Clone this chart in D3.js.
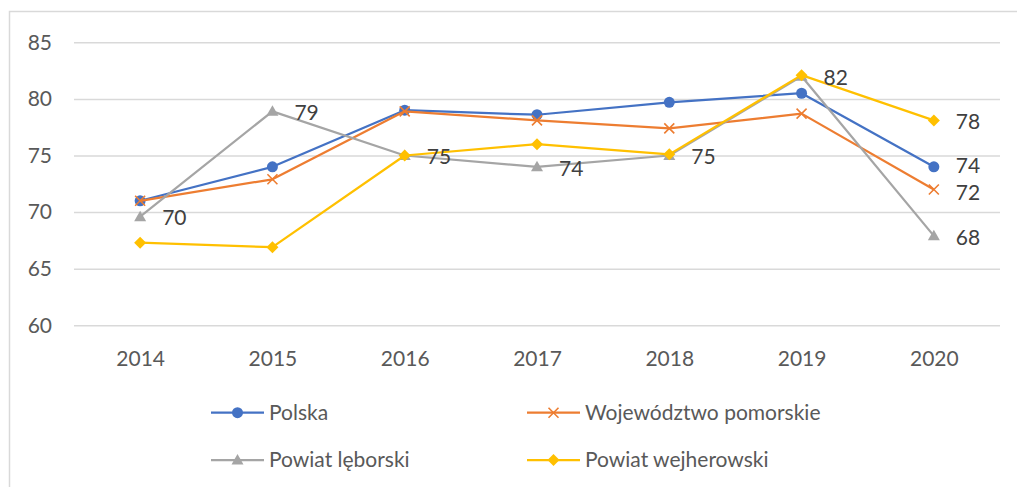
<!DOCTYPE html>
<html>
<head>
<meta charset="utf-8">
<script src="https://cdn.jsdelivr.net/npm/d3@7"></script>
<style>
  html, body { margin: 0; padding: 0; background: #fff; }
  text { font-family: Lato, "Open Sans", sans-serif; }
</style>
</head>
<body>
<div id="chart"></div>
<script>
// data
const years = ["2014", "2015", "2016", "2017", "2018", "2019", "2020"];
const polska = [71.0, 74.0, 79.0, 78.6, 79.7, 80.5, 74.0];
const pomorskie = [71.0, 72.9, 78.9, 78.1, 77.4, 78.7, 72.0];
const leborski = [69.6, 78.9, 75.0, 74.0, 75.0, 82.0, 67.9];
const wejherowski = [67.3, 66.9, 75.0, 76.0, 75.1, 82.1, 78.1];
const yTicks = [60, 65, 70, 75, 80, 85];

const series = [
    { name: "Polska", values: polska, color: "#4472C4", symbol: "circle", labels: [6], nudge: -1 },
    { name: "Województwo pomorskie", values: pomorskie, color: "#ED7D31", symbol: "cross", labels: [6], nudge: 3 },
    { name: "Powiat lęborski", values: leborski, color: "#A5A5A5", symbol: "triangle", labels: [0, 1, 2, 3, 4, 5, 6], nudge: 1.5 },
    { name: "Powiat wejherowski", values: wejherowski, color: "#FFC000", symbol: "diamond", labels: [6], nudge: 1.5 }
];

const width = 1017;
const height = 487;
const fontSize = "21px";

const svg = d3.select("#chart")
    .append("svg")
    .attr("width", width)
    .attr("height", height);

// chart frame
svg.append("rect")
    .attr("x", 9.5)
    .attr("y", 11.5)
    .attr("width", 1100)
    .attr("height", 600)
    .attr("fill", "none")
    .attr("stroke", "#d9d9d9")
    .attr("stroke-width", 1.5);

const x = d3.scalePoint()
    .domain(years)
    .range([74, 1000])
    .padding(0.5);

const y = d3.scaleLinear()
    .domain([60, 85])
    .range([325.3, 42.3]);

// y axis + gridlines
const yAxis = svg.append("g")
    .attr("transform", "translate(74,0)")
    .call(d3.axisLeft(y).tickValues(yTicks).tickSize(-926).tickPadding(22));
yAxis.select(".domain").remove();
yAxis.selectAll(".tick line")
    .attr("stroke", "#d9d9d9")
    .attr("stroke-width", 1.5);
yAxis.selectAll(".tick text")
    .attr("fill", "#595959")
    .style("font-size", fontSize);

// x axis
const xAxis = svg.append("g")
    .attr("transform", "translate(0,325.3)")
    .call(d3.axisBottom(x).tickSize(0));
xAxis.select(".domain").remove();
xAxis.selectAll(".tick text")
    .attr("y", 33)
    .attr("dy", "0.35em")
    .attr("fill", "#595959")
    .style("font-size", fontSize);

const line = d3.line()
    .x((d, i) => x(years[i]))
    .y(d => y(d));

function drawMarker(g, s, cx, cy) {
    if (s.symbol === "circle") {
        g.append("circle").attr("cx", cx).attr("cy", cy).attr("r", 5.5)
            .attr("fill", s.color);
    } else if (s.symbol === "triangle") {
        const r = 6;
        g.append("path")
            .attr("d", `M${cx},${cy - r}L${cx + r},${cy + r * 0.75}L${cx - r},${cy + r * 0.75}Z`)
            .attr("fill", s.color);
    } else if (s.symbol === "diamond") {
        const r = 6;
        g.append("path")
            .attr("d", `M${cx},${cy - r}L${cx + r},${cy}L${cx},${cy + r}L${cx - r},${cy}Z`)
            .attr("fill", s.color);
    } else if (s.symbol === "cross") {
        const r = 5;
        g.append("path")
            .attr("d", `M${cx - r},${cy - r}L${cx + r},${cy + r}M${cx - r},${cy + r}L${cx + r},${cy - r}`)
            .attr("stroke", s.color)
            .attr("stroke-width", 1.6)
            .attr("fill", "none");
    }
}

// lines and markers
series.forEach(s => {
    const g = svg.append("g");
    g.append("path")
        .datum(s.values)
        .attr("d", line)
        .attr("fill", "none")
        .attr("stroke", s.color)
        .attr("stroke-width", 2.25)
        .attr("stroke-linejoin", "round");
    s.values.forEach((v, i) => drawMarker(g, s, x(years[i]), y(v)));
});

// data labels
series.forEach(s => {
    svg.append("g").selectAll("text")
        .data(s.labels)
        .enter()
        .append("text")
        .attr("x", i => x(years[i]) + 22)
        .attr("y", i => y(s.values[i]) + s.nudge)
        .attr("dy", "0.35em")
        .attr("fill", "#404040")
        .style("font-size", fontSize)
        .text(i => Math.round(s.values[i]));
});

// legend
const legend = svg.selectAll(".legend")
    .data(series)
    .enter()
    .append("g")
    .attr("class", "legend")
    .attr("transform", (d, i) => `translate(${i % 2 === 0 ? 211 : 527},${i < 2 ? 412.7 : 460})`);

legend.append("line")
    .attr("x1", 0)
    .attr("x2", 53)
    .attr("stroke", d => d.color)
    .attr("stroke-width", 2.25);

legend.each(function(d) {
    drawMarker(d3.select(this), d, 26.5, 0);
});

legend.append("text")
    .attr("x", 58)
    .attr("dy", "0.35em")
    .attr("fill", "#595959")
    .style("font-size", fontSize)
    .text(d => d.name);
</script>
</body>
</html>
